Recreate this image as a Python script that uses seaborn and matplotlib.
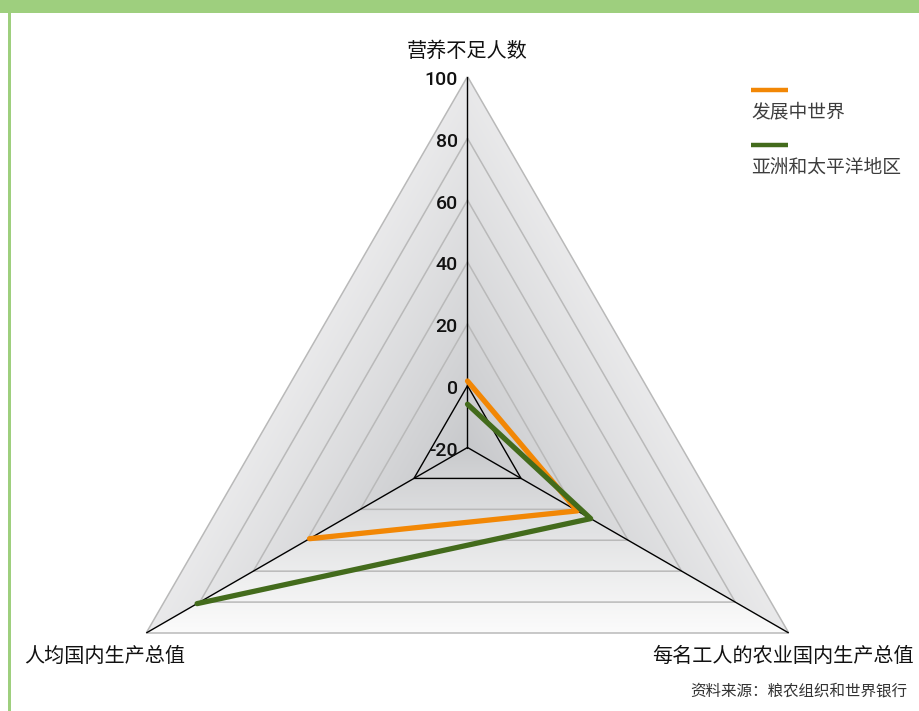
import numpy as np
import pandas as pd
import matplotlib.pyplot as plt
import seaborn as sns
from matplotlib.patches import Polygon, Rectangle
from matplotlib.lines import Line2D

# Data
categories = ['营养不足人数', '每名工人的农业国内生产总值', '人均国内生产总值']
developing = [1.5, 21, 39]
asia_pacific = [-6, 26, 81]
series_names = ['发展中世界', '亚洲和太平洋地区']
series_colors = ['#f28705', '#436b1c']
levels = [-20, 0, 20, 40, 60, 80, 100]
source_text = '资料来源：粮农组织和世界银行'

sns.set_theme(style='white')
plt.rcParams['font.family'] = ['Noto Sans CJK SC', 'DejaVu Sans']

W, H = 920, 711
fig = plt.figure(figsize=(W / 100, H / 100), dpi=100)
fig.patch.set_facecolor('white')

# chart placement (pixels): centre and radius of the triangle
cx, cy, R = 467.5, 447.5, 371
rect = [(cx - R) / W, (H - cy - R) / H, 2 * R / W, 2 * R / H]

# --- gradient background behind the radar ---
bg = fig.add_axes(rect, zorder=0)
bg.set_xlim(-1, 1)
bg.set_ylim(-1, 1)
bg.axis('off')
n = 600
gx, gy = np.meshgrid(np.linspace(-1, 1, n), np.linspace(-1, 1, n))
normals = np.array([[np.cos(np.radians(a)), np.sin(np.radians(a))] for a in (30, 150, 270)])
proj = np.stack([gx * nx + gy * ny for nx, ny in normals]) / 0.5
t = np.clip(proj.max(axis=0), 0, 1)
sector = proj.argmax(axis=0)
c0 = np.array([0.78, 0.785, 0.795])
edge_up = np.array([0.915, 0.915, 0.92])
edge_bot = np.array([0.985, 0.985, 0.985])
edge = np.where((sector == 2)[..., None], edge_bot, edge_up)
img = c0 + (edge - c0) * (t[..., None] ** 0.85)
im = bg.imshow(img, extent=(-1, 1, -1, 1), origin='lower', interpolation='bilinear')
verts = [(np.cos(np.radians(a)), np.sin(np.radians(a))) for a in (90, -30, 210)]
clip = Polygon(verts, closed=True, transform=bg.transData, facecolor='none', edgecolor='none')
bg.add_patch(clip)
im.set_clip_path(clip)

# --- radar on polar axes ---
ax = fig.add_axes(rect, projection='polar', zorder=1)
ax.patch.set_alpha(0)
ax.set_theta_offset(np.pi / 2)
ax.set_theta_direction(-1)
ax.set_rlim(levels[0], levels[-1])
ax.grid(False)
ax.spines['polar'].set_visible(False)
ax.set_xticks([])
ax.set_yticks([])

theta = np.linspace(0, 2 * np.pi, len(categories), endpoint=False)
theta_closed = np.append(theta, theta[0])

for lv in levels[1:]:
    ax.plot(theta_closed, [lv] * len(theta_closed),
            color='black' if lv == 0 else '#b9b9b9', lw=1.0 if lv == 0 else 1.1, zorder=2)
for th in theta:
    ax.plot([th, th], [levels[0], levels[-1]], color='black', lw=1.0, zorder=3)

rows = []
for name, vals in zip(series_names, [developing, asia_pacific]):
    for th, v in zip(theta_closed, vals + vals[:1]):
        rows.append({'series': name, 'theta': th, 'value': v})
df = pd.DataFrame(rows)
for name, col in zip(series_names, series_colors):
    sns.lineplot(data=df[df['series'] == name], x='theta', y='value', sort=False,
                 color=col, lw=3.8, ax=ax, legend=False, zorder=5)
ax.set_xlabel('')
ax.set_ylabel('')
ax.set_rlim(levels[0], levels[-1])

for lv in levels:
    ax.annotate(str(lv), xy=(0, lv), xytext=(-7, -2.5), textcoords='offset points',
                ha='right', va='center', fontsize=14, fontweight='medium',
                family=['Roboto', 'DejaVu Sans'], color='#111111', zorder=6)

label_offsets = [(0, 18), (-4, -17), (-30, -17)]
for th, cat, off in zip(theta, categories, label_offsets):
    ax.annotate(cat, xy=(th, levels[-1]), xytext=off, textcoords='offset points',
                ha='center', va='center', fontsize=14.5, fontweight='medium',
                color='#111111', annotation_clip=False)

# --- legend (line above label) ---
for i, (name, col) in enumerate(zip(series_names, series_colors)):
    ly = 90 + i * 55
    fig.add_artist(Line2D([751 / W, 788 / W], [1 - ly / H, 1 - ly / H],
                          color=col, lw=3.2, solid_capstyle='butt'))
    fig.text(751 / W, 1 - (ly + 22) / H, name, ha='left', va='center',
             fontsize=13.5, color='#3d3d3d')

fig.text(907 / W, 1 - 691 / H, source_text, ha='right', va='center',
         fontsize=11.2, color='#333333')

# --- green frame: top band and left bar ---
fig.add_artist(Rectangle((0, 1 - 13 / H), 1, 13 / H, transform=fig.transFigure,
                         facecolor='#9ecf7e', edgecolor='none', zorder=10))
fig.add_artist(Rectangle((8 / W, 0), 3 / W, 1 - 13 / H, transform=fig.transFigure,
                         facecolor='#9ecf7e', edgecolor='none', zorder=10))

fig.savefig('out.png', dpi=100)
